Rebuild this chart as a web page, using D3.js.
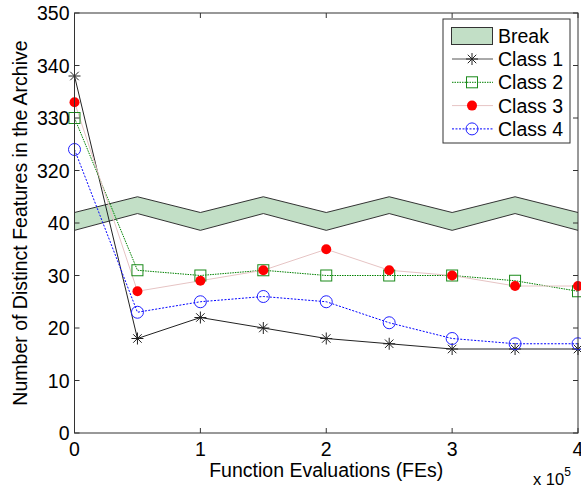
<!DOCTYPE html>
<html>
<head>
<meta charset="utf-8">
<script src="https://cdn.jsdelivr.net/npm/d3@7"></script>
<style>
  body { margin: 0; background: #fff; }
  svg { font-family: "Liberation Sans", Arial, sans-serif; }
</style>
</head>
<body>
<svg id="chart" width="581" height="489"></svg>
<script>
"use strict";

// x values in units of 10^5 FEs
let fes = [0, 0.5, 1, 1.5, 2, 2.5, 3, 3.5, 4];
let class1 = [338, 18, 22, 20, 18, 17, 16, 16, 16];
let class2 = [330, 31, 30, 31, 30, 30, 30, 29, 27];
let class3 = [333, 27, 29, 31, 35, 31, 30, 28, 28];
let class4 = [324, 23, 25, 26, 25, 21, 18, 17, 17];

// broken axis: values above the break are shifted down by 270
let yTickPos = [0, 10, 20, 30, 40, 50, 60, 70, 80];
let yTickLabels = ['0', '10', '20', '30', '40', '320', '330', '340', '350'];
let xTicks = [0, 1, 2, 3, 4];

// zigzag break band (lower / upper edge, in displayed units)
let breakLow = [38.6, 41.8, 38.6, 41.8, 38.6, 41.8, 38.6, 41.8, 38.6];
let breakHigh = [42.0, 45.0, 42.0, 45.0, 42.0, 45.0, 42.0, 45.0, 42.0];

let shift = v => v > 100 ? v - 270 : v;

let svg = d3.select('#chart');
let pLeft = 74.5, pRight = 578, pTop = 13, pBottom = 433;
let fs = 19.5;

let x = d3.scaleLinear().domain([0, 4]).range([pLeft, pRight]);
let y = d3.scaleLinear().domain([0, 80]).range([pBottom, pTop]);

svg.append('defs').append('clipPath').attr('id', 'clip')
  .append('rect')
  .attr('x', pLeft).attr('y', pTop)
  .attr('width', pRight - pLeft).attr('height', pBottom - pTop);

let plot = svg.append('g').attr('clip-path', 'url(#clip)');

// break band
let band = d3.area()
  .x((d, i) => x(fes[i]))
  .y0((d, i) => y(breakLow[i]))
  .y1((d, i) => y(breakHigh[i]));
plot.append('path').datum(fes)
  .attr('d', band)
  .attr('fill', '#c2dfc6');
[breakLow, breakHigh].forEach(edge => {
  plot.append('path').datum(edge)
    .attr('d', d3.line().x((d, i) => x(fes[i])).y(d => y(d)))
    .attr('fill', 'none')
    .attr('stroke', '#333')
    .attr('stroke-width', 1);
});

let series = [
  { name: 'Class 1', values: class1, line: '#222', dash: null, marker: 'star' },
  { name: 'Class 2', values: class2, line: '#008000', dash: '1.5,1', marker: 'square' },
  { name: 'Class 3', values: class3, line: '#e6c4c4', dash: null, marker: 'dot' },
  { name: 'Class 4', values: class4, line: '#0000ff', dash: '2,1.5', marker: 'circle' }
];

let drawMarker = (g, kind, cx, cy) => {
  if (kind === 'star') {
    let r = 6;
    let p = '';
    [0, 45, 90, 135].forEach(a => {
      let dx = r * Math.cos(a * Math.PI / 180), dy = r * Math.sin(a * Math.PI / 180);
      p += 'M' + (cx - dx) + ',' + (cy - dy) + 'L' + (cx + dx) + ',' + (cy + dy);
    });
    g.append('path').attr('d', p).attr('stroke', '#222').attr('stroke-width', 1).attr('fill', 'none');
  } else if (kind === 'square') {
    g.append('rect').attr('x', cx - 5.5).attr('y', cy - 5.5).attr('width', 11).attr('height', 11)
      .attr('fill', 'none').attr('stroke', '#1a8a1a').attr('stroke-width', 1);
  } else if (kind === 'dot') {
    g.append('circle').attr('cx', cx).attr('cy', cy).attr('r', 5).attr('fill', '#ff0000');
  } else {
    g.append('circle').attr('cx', cx).attr('cy', cy).attr('r', 6)
      .attr('fill', 'none').attr('stroke', '#2020ff').attr('stroke-width', 1);
  }
};

series.forEach(s => {
  plot.append('path').datum(s.values)
    .attr('d', d3.line().x((d, i) => x(fes[i])).y(d => y(shift(d))))
    .attr('fill', 'none')
    .attr('stroke', s.line)
    .attr('stroke-width', 1)
    .attr('stroke-dasharray', s.dash);
});
let markers = svg.append('g');
series.forEach(s => {
  s.values.forEach((v, i) => drawMarker(markers, s.marker, x(fes[i]), y(shift(v))));
});

// axes box
svg.append('rect')
  .attr('x', pLeft).attr('y', pTop)
  .attr('width', pRight - pLeft).attr('height', pBottom - pTop)
  .attr('fill', 'none').attr('stroke', '#333').attr('stroke-width', 1);

let tickLen = 5;
let ticks = svg.append('g').attr('stroke', '#333').attr('stroke-width', 1);
yTickPos.forEach(v => {
  ticks.append('line').attr('x1', pLeft).attr('x2', pLeft + tickLen).attr('y1', y(v)).attr('y2', y(v));
  ticks.append('line').attr('x1', pRight).attr('x2', pRight - tickLen).attr('y1', y(v)).attr('y2', y(v));
});
xTicks.forEach(v => {
  ticks.append('line').attr('x1', x(v)).attr('x2', x(v)).attr('y1', pBottom).attr('y2', pBottom - tickLen);
  ticks.append('line').attr('x1', x(v)).attr('x2', x(v)).attr('y1', pTop).attr('y2', pTop + tickLen);
});

svg.selectAll('.ylab').data(yTickPos).enter().append('text')
  .attr('class', 'ylab')
  .attr('x', pLeft - 5).attr('y', d => y(d) + 7)
  .attr('text-anchor', 'end')
  .attr('font-size', fs)
  .text((d, i) => yTickLabels[i]);

svg.selectAll('.xlab').data(xTicks).enter().append('text')
  .attr('class', 'xlab')
  .attr('x', d => x(d)).attr('y', 456)
  .attr('text-anchor', 'middle')
  .attr('font-size', fs)
  .text(d => d);

svg.append('text')
  .attr('x', (pLeft + pRight) / 2).attr('y', 477)
  .attr('text-anchor', 'middle').attr('font-size', fs)
  .text('Function Evaluations (FEs)');

svg.append('text')
  .attr('x', 533).attr('y', 485).attr('font-size', 16.5)
  .html('x 10<tspan dy="-9" font-size="12">5</tspan>');

svg.append('text')
  .attr('transform', 'translate(27,' + (pTop + pBottom) / 2 + ') rotate(-90)')
  .attr('text-anchor', 'middle').attr('font-size', fs)
  .text('Number of Distinct Features in the Archive');

// legend
let lg = svg.append('g');
lg.append('rect').attr('x', 443).attr('y', 19).attr('width', 127).attr('height', 124)
  .attr('fill', '#fff').attr('stroke', '#333').attr('stroke-width', 1);
lg.append('rect').attr('x', 451.5).attr('y', 27.5).attr('width', 41).attr('height', 17)
  .attr('fill', '#c2dfc6').attr('stroke', '#333').attr('stroke-width', 1);
lg.append('text').attr('x', 498).attr('y', 43).attr('font-size', fs).text('Break');
series.forEach((s, i) => {
  let ly = 59 + i * 23.3;
  lg.append('line').attr('x1', 452).attr('x2', 493).attr('y1', ly).attr('y2', ly)
    .attr('stroke', s.line === '#222' ? '#555' : s.line)
    .attr('stroke-dasharray', s.dash);
  drawMarker(lg, s.marker, 472, ly);
  lg.append('text').attr('x', 498).attr('y', ly + 7).attr('font-size', fs).text(s.name);
});
</script>
</body>
</html>
